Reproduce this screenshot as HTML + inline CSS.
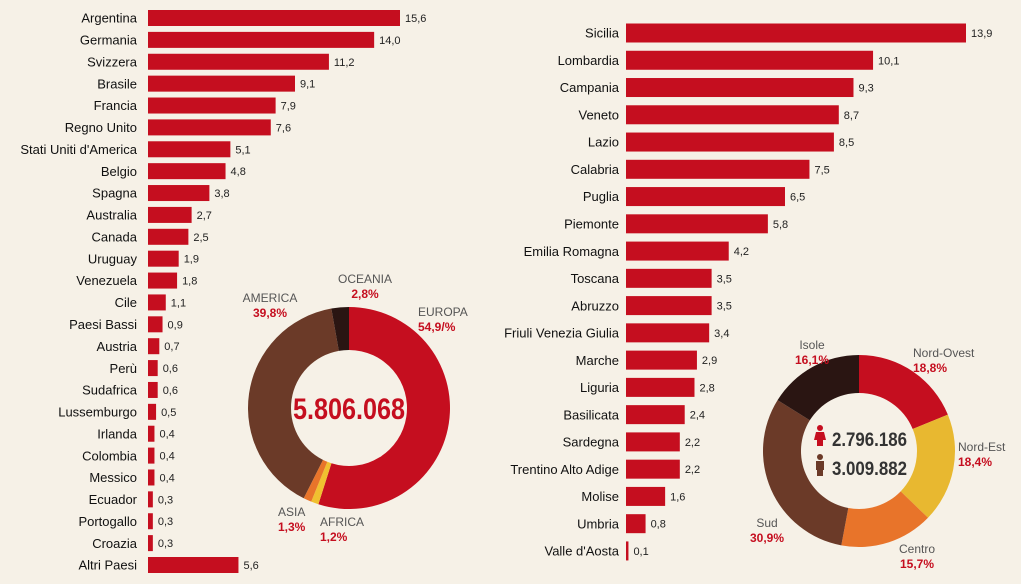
<!DOCTYPE html>
<html><head><meta charset="utf-8"><style>
body{margin:0;background:#f6f1e7;}
svg{display:block;font-family:"Liberation Sans",sans-serif;}
</style></head><body>
<svg id="c" width="1021" height="584"></svg>
<script>
const countries=["Argentina","Germania","Svizzera","Brasile","Francia","Regno Unito","Stati Uniti d'America","Belgio","Spagna","Australia","Canada","Uruguay","Venezuela","Cile","Paesi Bassi","Austria","Perù","Sudafrica","Lussemburgo","Irlanda","Colombia","Messico","Ecuador","Portogallo","Croazia","Altri Paesi"];
const countryValues=[15.6,14.0,11.2,9.1,7.9,7.6,5.1,4.8,3.8,2.7,2.5,1.9,1.8,1.1,0.9,0.7,0.6,0.6,0.5,0.4,0.4,0.4,0.3,0.3,0.3,5.6];
const regions=["Sicilia","Lombardia","Campania","Veneto","Lazio","Calabria","Puglia","Piemonte","Emilia Romagna","Toscana","Abruzzo","Friuli Venezia Giulia","Marche","Liguria","Basilicata","Sardegna","Trentino Alto Adige","Molise","Umbria","Valle d'Aosta"];
const regionValues=[13.9,10.1,9.3,8.7,8.5,7.5,6.5,5.8,4.2,3.5,3.5,3.4,2.9,2.8,2.4,2.2,2.2,1.6,0.8,0.1];
const continents=["EUROPA","AFRICA","ASIA","AMERICA","OCEANIA"];
const continentShares=[54.9,1.2,1.3,39.8,2.8];
const continentLabels=["54,9/%","1,2%","1,3%","39,8%","2,8%"];
const areas=["Nord-Ovest","Nord-Est","Centro","Sud","Isole"];
const areaShares=[18.8,18.4,15.7,30.9,16.1];
const areaLabels=["18,8%","18,4%","15,7%","30,9%","16,1%"];

const svg=document.getElementById('c');const NS="http://www.w3.org/2000/svg";
function el(t,a,txt){const e=document.createElementNS(NS,t);for(const k in a)e.setAttribute(k,a[k]);if(txt!=null)e.textContent=txt;svg.appendChild(e);return e;}
const fmt=v=>v.toFixed(1).replace('.',',');
const RED="#c50e1f";
function bars(cats,vals,x0,scale,y0,pitch,h,labelX,fs,prefix){
 cats.forEach((c,i)=>{const y=y0+i*pitch;const w=vals[i]*scale;
  const t=el('text',{x:labelX,y:y+fs*0.36,'text-anchor':'end','font-size':fs,fill:'#111'},c);
  
  const r=el('rect',{x:x0,y:y-h/2,width:Math.max(w,2),height:h,fill:RED});
  
  const v=el('text',{x:x0+Math.max(w,2)+5,y:y+4,'font-size':11,fill:'#222'},fmt(vals[i]));
  
 });
}
bars(countries,countryValues,148,252/15.6,18,21.88,16,137,13,'country');
bars(regions,regionValues,626,340/13.9,33,27.26,19,619,13,'region');
function donut(cx,cy,R,r,shares,colors,prefix){
 let a=0;const tot=shares.reduce((s,v)=>s+v,0);
 shares.forEach((s,i)=>{const a1=a+s/tot*2*Math.PI;
  const p=(ang,rad)=>[cx+rad*Math.sin(ang),cy-rad*Math.cos(ang)];
  const [x1,y1]=p(a,R),[x2,y2]=p(a1,R),[x3,y3]=p(a1,r),[x4,y4]=p(a,r);const lg=(a1-a)>Math.PI?1:0;
  const pa=el('path',{d:`M${x1},${y1}A${R},${R} 0 ${lg} 1 ${x2},${y2}L${x3},${y3}A${r},${r} 0 ${lg} 0 ${x4},${y4}Z`,fill:colors[i]});
  a=a1;});
}
donut(349,408,101,58,continentShares,[RED,"#f0c030","#e8742a","#6b3a28","#2a1512"],'continent');
donut(859,451,96,58,areaShares,[RED,"#e8b830","#e8742a","#6b3a28","#2a1512"],'area');
function lab(x,y,name,val,anchor,prefix){
 const a=el('text',{x:x,y:y,'text-anchor':anchor,'font-size':12,fill:'#555'},name);
 const b=el('text',{x:x,y:y+15,'text-anchor':anchor,'font-size':12,'font-weight':'bold',fill:RED},val);
}
const cpos=[[418,316,'start'],[320,526,'start'],[278,516,'start'],[270,302,'middle'],[365,283,'middle']];
continents.forEach((c,i)=>lab(cpos[i][0],cpos[i][1],c,continentLabels[i],cpos[i][2],'continent'));
const apos=[[913,357,'start'],[958,451,'start'],[917,553,'middle'],[767,527,'middle'],[812,349,'middle']];
areas.forEach((c,i)=>lab(apos[i][0],apos[i][1],c,areaLabels[i],apos[i][2],'area'));
const tot=el('text',{x:349,y:419,'text-anchor':'middle','font-size':30,'font-weight':'bold',fill:RED,'textLength':112,'lengthAdjust':'spacingAndGlyphs'},'5.806.068');

const f=el('text',{x:832,y:446,'font-size':19,'font-weight':'bold',fill:'#333','textLength':75,'lengthAdjust':'spacingAndGlyphs'},'2.796.186');

const m=el('text',{x:832,y:475,'font-size':19,'font-weight':'bold',fill:'#333','textLength':75,'lengthAdjust':'spacingAndGlyphs'},'3.009.882');

const fi=el('g',{});
fi.innerHTML=`<circle cx="820" cy="428" r="3" fill="${RED}"/><path d="M816,432h8l2,8h-3v6h-6v-6h-3z" fill="${RED}"/>`;
const mi=el('g',{});
mi.innerHTML=`<circle cx="820" cy="457" r="3" fill="#6b3a28"/><rect x="816" y="461" width="8" height="9" fill="#6b3a28"/><rect x="817" y="469" width="6" height="7" fill="#6b3a28"/>`;
</script></body></html>
